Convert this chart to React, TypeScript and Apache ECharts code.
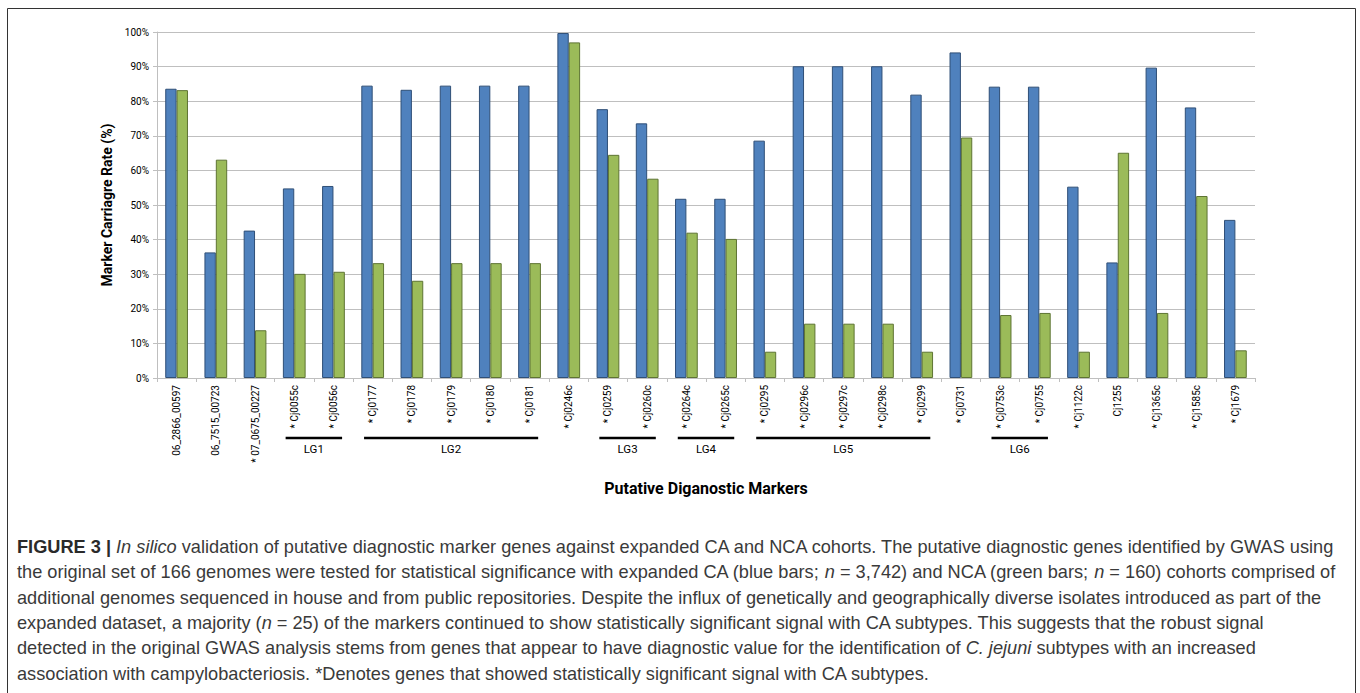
import React, { useEffect, useRef } from "react";
import * as echarts from "echarts";

const categories = [
  "06_2866_00597", "06_7515_00723", "* 07_0675_00227", "* Cj0055c", "* Cj0056c",
  "* Cj0177", "* Cj0178", "* Cj0179", "* Cj0180", "* Cj0181", "* Cj0246c",
  "* Cj0259", "* Cj0260c", "* Cj0264c", "* Cj0265c", "* Cj0295", "* Cj0296c",
  "* Cj0297c", "* Cj0298c", "* Cj0299", "* Cj0731", "* Cj0753c", "* Cj0755",
  "* Cj1122c", "Cj1255", "* Cj1365c", "* Cj1585c", "* Cj1679",
];

const caValues = [
  83.6, 36.3, 42.6, 54.8, 55.5, 84.5, 83.3, 84.5, 84.5, 84.5, 99.7,
  77.7, 73.6, 51.8, 51.8, 68.6, 90.1, 90.1, 90.1, 81.9, 94.1, 84.2, 84.2,
  55.3, 33.4, 89.7, 78.2, 45.7,
];

const ncaValues = [
  83.2, 63.1, 13.8, 30.1, 30.7, 33.2, 28.1, 33.2, 33.2, 33.2, 97.0,
  64.5, 57.6, 42.0, 40.2, 7.6, 15.7, 15.7, 15.7, 7.6, 69.5, 18.2, 18.8,
  7.6, 65.1, 18.8, 52.6, 8.0,
];

const groupNames = ["LG1", "LG2", "LG3", "LG4", "LG5", "LG6"];
const groupStart = [3, 5, 11, 13, 15, 21];
const groupEnd = [4, 9, 12, 14, 19, 22];

const yMin = 0;
const yMax = 100;
const yStep = 10;

const yAxisTitle = "Marker Carriagre Rate (%)";
const xAxisTitle = "Putative Diganostic Markers";

const captionLines = [
  "{b|FIGURE 3 |} {i|In silico} validation of putative diagnostic marker genes against expanded CA and NCA cohorts. The putative diagnostic genes identified by GWAS using",
  "the original set of 166 genomes were tested for statistical significance with expanded CA (blue bars; {i|n} = 3,742) and NCA (green bars; {i|n} = 160) cohorts comprised of",
  "additional genomes sequenced in house and from public repositories. Despite the influx of genetically and geographically diverse isolates introduced as part of the",
  "expanded dataset, a majority ({i|n} = 25) of the markers continued to show statistically significant signal with CA subtypes. This suggests that the robust signal",
  "detected in the original GWAS analysis stems from genes that appear to have diagnostic value for the identification of {i|C. jejuni} subtypes with an increased",
  "association with campylobacteriosis. *Denotes genes that showed statistically significant signal with CA subtypes.",
];

const chartFont = "Roboto, 'Liberation Sans', sans-serif";
const captionFont = "'Liberation Sans', Arial, sans-serif";
const captionSize = 18.2;

export default function App() {
  const ref = useRef<HTMLDivElement>(null);

  useEffect(() => {
    if (!ref.current) return;
    const chart = echarts.init(ref.current, undefined, { renderer: "svg" });

    const captionGraphics = captionLines.map((line, i) => ({
      type: "text",
      left: 17,
      top: 538 + i * 25.3,
      style: {
        text: line,
        fontSize: captionSize,
        fontFamily: captionFont,
        fill: "#3a3a3a",
        rich: {
          b: { fontWeight: "bold", fontSize: captionSize, fontFamily: captionFont, fill: "#2a2a2a" },
          i: { fontStyle: "italic", fontSize: captionSize, fontFamily: captionFont, fill: "#3a3a3a" },
        },
      },
    }));

    chart.setOption({
      animation: false,
      grid: { left: 157, right: 105, top: 32, bottom: 315, containLabel: false },
      xAxis: {
        type: "category",
        data: categories,
        name: xAxisTitle,
        nameLocation: "middle",
        nameGap: 102,
        nameTextStyle: { fontFamily: chartFont, fontWeight: "bold", fontSize: 16, color: "#000" },
        axisLine: { lineStyle: { color: "#BFBFBF" } },
        axisTick: { show: true, length: 4, lineStyle: { color: "#BFBFBF" } },
        axisLabel: {
          rotate: 90,
          interval: 0,
          margin: 7,
          fontFamily: chartFont,
          fontSize: 10,
          color: "#000",
        },
      },
      yAxis: {
        type: "value",
        min: yMin,
        max: yMax,
        interval: yStep,
        name: yAxisTitle,
        nameLocation: "middle",
        nameGap: 40,
        nameTextStyle: { fontFamily: chartFont, fontWeight: "bold", fontSize: 14, color: "#000" },
        axisLine: { show: true, lineStyle: { color: "#BFBFBF" } },
        axisTick: { show: true, length: 4, lineStyle: { color: "#BFBFBF" } },
        splitLine: { lineStyle: { color: "#BFBFBF" } },
        axisLabel: {
          formatter: "{value}%",
          fontFamily: chartFont,
          fontSize: 10,
          color: "#000",
          margin: 8,
        },
      },
      series: [
        {
          name: "CA",
          type: "bar",
          data: caValues,
          barWidth: "29%",
          barGap: "0%",
          itemStyle: { color: "#4F81BD", borderColor: "#2F4F77", borderWidth: 1 },
        },
        {
          name: "NCA",
          type: "bar",
          data: ncaValues,
          barWidth: "29%",
          barGap: "0%",
          itemStyle: { color: "#9BBB59", borderColor: "#5E7433", borderWidth: 1 },
        },
        {
          type: "custom",
          silent: true,
          data: groupStart.map((s, i) => [s, groupEnd[i]]),
          encode: { x: [0, 1] },
          renderItem: (params: any, api: any) => {
            const p1 = api.coord([api.value(0), 0]);
            const p2 = api.coord([api.value(1), 0]);
            const w = api.size([1, 0])[0];
            const y = p1[1] + 60;
            return {
              type: "group",
              children: [
                {
                  type: "line",
                  shape: { x1: p1[0] - w * 0.22, y1: y, x2: p2[0] + w * 0.22, y2: y },
                  style: { stroke: "#000", lineWidth: 2.5 },
                },
                {
                  type: "text",
                  x: (p1[0] + p2[0]) / 2,
                  y: y + 5,
                  style: {
                    text: groupNames[params.dataIndex],
                    textAlign: "center",
                    textVerticalAlign: "top",
                    fontSize: 11.5,
                    fontFamily: chartFont,
                    fill: "#000",
                  },
                },
              ],
            };
          },
        },
      ],
      graphic: [
        {
          type: "rect",
          shape: { x: 7.5, y: 8.5, width: 1348, height: 720 },
          style: { fill: "none", stroke: "#333", lineWidth: 1 },
          silent: true,
        },
        ...captionGraphics,
      ],
    });

    return () => chart.dispose();
  }, []);

  return (
    <div
      ref={ref}
      style={{ position: "fixed", left: 0, top: 0, width: 1360, height: 693, background: "#fff" }}
    />
  );
}
